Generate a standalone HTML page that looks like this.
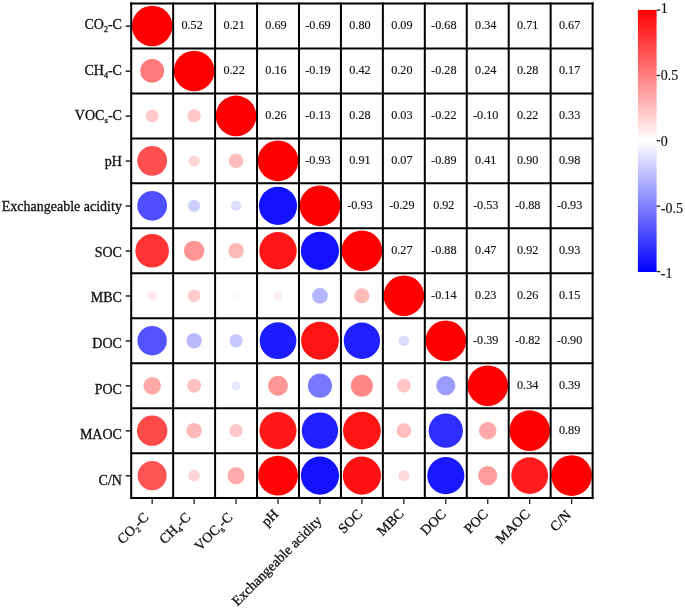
<!DOCTYPE html>
<html lang="en"><head><meta charset="utf-8"><title>Correlation matrix</title>
<style>
html,body{margin:0;padding:0;background:#fff;}
body{width:685px;height:609px;overflow:hidden;}
svg{display:block;}
text{font-family:"Liberation Serif","Times New Roman",serif;fill:#111;}
.val{font-size:12.2px;text-anchor:middle;stroke:#1a1a1a;stroke-width:0.15px;}
.ax{font-size:14px;stroke:#111;stroke-width:0.3px;}
.sub{font-size:9px;}
.sub8{font-size:8px;}
.cb{font-size:14px;stroke:#1a1a1a;stroke-width:0.15px;}
</style></head><body>
<svg width="685" height="609" viewBox="0 0 685 609">
<defs><linearGradient id="g" x1="0" y1="0" x2="0" y2="1"><stop offset="0" stop-color="#ff0000"/><stop offset="0.5" stop-color="#ffffff"/><stop offset="1" stop-color="#0000ff"/></linearGradient></defs>
<rect width="685" height="609" fill="#fff"/>
<circle cx="152.17" cy="25.98" r="20.30" fill="rgb(255,0,0)"/>
<text class="val" x="192.12" y="28.98">0.52</text>
<text class="val" x="234.06" y="28.98">0.21</text>
<text class="val" x="276.01" y="28.98">0.69</text>
<text class="val" x="317.95" y="28.98">-0.69</text>
<text class="val" x="359.90" y="28.98">0.80</text>
<text class="val" x="401.85" y="28.98">0.09</text>
<text class="val" x="443.79" y="28.98">-0.68</text>
<text class="val" x="485.74" y="28.98">0.34</text>
<text class="val" x="527.68" y="28.98">0.71</text>
<text class="val" x="569.63" y="28.98">0.67</text>
<circle cx="152.17" cy="70.95" r="11.90" fill="rgb(255,122,122)"/>
<circle cx="194.12" cy="70.95" r="20.30" fill="rgb(255,0,0)"/>
<text class="val" x="234.06" y="73.95">0.22</text>
<text class="val" x="276.01" y="73.95">0.16</text>
<text class="val" x="317.95" y="73.95">-0.19</text>
<text class="val" x="359.90" y="73.95">0.42</text>
<text class="val" x="401.85" y="73.95">0.20</text>
<text class="val" x="443.79" y="73.95">-0.28</text>
<text class="val" x="485.74" y="73.95">0.24</text>
<text class="val" x="527.68" y="73.95">0.28</text>
<text class="val" x="569.63" y="73.95">0.17</text>
<circle cx="152.17" cy="115.91" r="6.47" fill="rgb(255,201,201)"/>
<circle cx="194.12" cy="115.91" r="6.65" fill="rgb(255,199,199)"/>
<circle cx="236.06" cy="115.91" r="20.30" fill="rgb(255,0,0)"/>
<text class="val" x="276.01" y="118.91">0.26</text>
<text class="val" x="317.95" y="118.91">-0.13</text>
<text class="val" x="359.90" y="118.91">0.28</text>
<text class="val" x="401.85" y="118.91">0.03</text>
<text class="val" x="443.79" y="118.91">-0.22</text>
<text class="val" x="485.74" y="118.91">-0.10</text>
<text class="val" x="527.68" y="118.91">0.22</text>
<text class="val" x="569.63" y="118.91">0.33</text>
<circle cx="152.17" cy="160.87" r="14.88" fill="rgb(255,79,79)"/>
<circle cx="194.12" cy="160.87" r="5.60" fill="rgb(255,214,214)"/>
<circle cx="236.06" cy="160.87" r="7.35" fill="rgb(255,189,189)"/>
<circle cx="278.01" cy="160.87" r="20.30" fill="rgb(255,0,0)"/>
<text class="val" x="317.95" y="163.87">-0.93</text>
<text class="val" x="359.90" y="163.87">0.91</text>
<text class="val" x="401.85" y="163.87">0.07</text>
<text class="val" x="443.79" y="163.87">-0.89</text>
<text class="val" x="485.74" y="163.87">0.41</text>
<text class="val" x="527.68" y="163.87">0.90</text>
<text class="val" x="569.63" y="163.87">0.98</text>
<circle cx="152.17" cy="205.84" r="14.88" fill="rgb(79,79,255)"/>
<circle cx="194.12" cy="205.84" r="6.12" fill="rgb(207,207,255)"/>
<circle cx="236.06" cy="205.84" r="5.07" fill="rgb(222,222,255)"/>
<circle cx="278.01" cy="205.84" r="19.08" fill="rgb(18,18,255)"/>
<circle cx="319.95" cy="205.84" r="20.30" fill="rgb(255,0,0)"/>
<text class="val" x="359.90" y="208.84">-0.93</text>
<text class="val" x="401.85" y="208.84">-0.29</text>
<text class="val" x="443.79" y="208.84">0.92</text>
<text class="val" x="485.74" y="208.84">-0.53</text>
<text class="val" x="527.68" y="208.84">-0.88</text>
<text class="val" x="569.63" y="208.84">-0.93</text>
<circle cx="152.17" cy="250.80" r="16.80" fill="rgb(255,51,51)"/>
<circle cx="194.12" cy="250.80" r="10.15" fill="rgb(255,148,148)"/>
<circle cx="236.06" cy="250.80" r="7.70" fill="rgb(255,184,184)"/>
<circle cx="278.01" cy="250.80" r="18.73" fill="rgb(255,23,23)"/>
<circle cx="319.95" cy="250.80" r="19.08" fill="rgb(18,18,255)"/>
<circle cx="361.90" cy="250.80" r="20.30" fill="rgb(255,0,0)"/>
<text class="val" x="401.85" y="253.80">0.27</text>
<text class="val" x="443.79" y="253.80">-0.88</text>
<text class="val" x="485.74" y="253.80">0.47</text>
<text class="val" x="527.68" y="253.80">0.92</text>
<text class="val" x="569.63" y="253.80">0.93</text>
<circle cx="152.17" cy="295.76" r="4.38" fill="rgb(255,232,232)"/>
<circle cx="194.12" cy="295.76" r="6.30" fill="rgb(255,204,204)"/>
<circle cx="236.06" cy="295.76" r="3.32" fill="rgb(255,247,247)"/>
<circle cx="278.01" cy="295.76" r="4.03" fill="rgb(255,237,237)"/>
<circle cx="319.95" cy="295.76" r="7.87" fill="rgb(181,181,255)"/>
<circle cx="361.90" cy="295.76" r="7.53" fill="rgb(255,186,186)"/>
<circle cx="403.85" cy="295.76" r="20.30" fill="rgb(255,0,0)"/>
<text class="val" x="443.79" y="298.76">-0.14</text>
<text class="val" x="485.74" y="298.76">0.23</text>
<text class="val" x="527.68" y="298.76">0.26</text>
<text class="val" x="569.63" y="298.76">0.15</text>
<circle cx="152.17" cy="340.73" r="14.70" fill="rgb(82,82,255)"/>
<circle cx="194.12" cy="340.73" r="7.70" fill="rgb(184,184,255)"/>
<circle cx="236.06" cy="340.73" r="6.65" fill="rgb(199,199,255)"/>
<circle cx="278.01" cy="340.73" r="18.38" fill="rgb(28,28,255)"/>
<circle cx="319.95" cy="340.73" r="18.90" fill="rgb(255,20,20)"/>
<circle cx="361.90" cy="340.73" r="18.20" fill="rgb(31,31,255)"/>
<circle cx="403.85" cy="340.73" r="5.25" fill="rgb(219,219,255)"/>
<circle cx="445.79" cy="340.73" r="20.30" fill="rgb(255,0,0)"/>
<text class="val" x="485.74" y="343.73">-0.39</text>
<text class="val" x="527.68" y="343.73">-0.82</text>
<text class="val" x="569.63" y="343.73">-0.90</text>
<circle cx="152.17" cy="385.69" r="8.75" fill="rgb(255,168,168)"/>
<circle cx="194.12" cy="385.69" r="7.00" fill="rgb(255,194,194)"/>
<circle cx="236.06" cy="385.69" r="4.55" fill="rgb(230,230,255)"/>
<circle cx="278.01" cy="385.69" r="9.97" fill="rgb(255,150,150)"/>
<circle cx="319.95" cy="385.69" r="12.07" fill="rgb(120,120,255)"/>
<circle cx="361.90" cy="385.69" r="11.02" fill="rgb(255,135,135)"/>
<circle cx="403.85" cy="385.69" r="6.83" fill="rgb(255,196,196)"/>
<circle cx="445.79" cy="385.69" r="9.62" fill="rgb(156,156,255)"/>
<circle cx="487.74" cy="385.69" r="20.30" fill="rgb(255,0,0)"/>
<text class="val" x="527.68" y="388.69">0.34</text>
<text class="val" x="569.63" y="388.69">0.39</text>
<circle cx="152.17" cy="430.65" r="15.22" fill="rgb(255,74,74)"/>
<circle cx="194.12" cy="430.65" r="7.70" fill="rgb(255,184,184)"/>
<circle cx="236.06" cy="430.65" r="6.65" fill="rgb(255,199,199)"/>
<circle cx="278.01" cy="430.65" r="18.55" fill="rgb(255,25,25)"/>
<circle cx="319.95" cy="430.65" r="18.20" fill="rgb(31,31,255)"/>
<circle cx="361.90" cy="430.65" r="18.90" fill="rgb(255,20,20)"/>
<circle cx="403.85" cy="430.65" r="7.35" fill="rgb(255,189,189)"/>
<circle cx="445.79" cy="430.65" r="17.15" fill="rgb(46,46,255)"/>
<circle cx="487.74" cy="430.65" r="8.75" fill="rgb(255,168,168)"/>
<circle cx="529.68" cy="430.65" r="20.30" fill="rgb(255,0,0)"/>
<text class="val" x="569.63" y="433.65">0.89</text>
<circle cx="152.17" cy="475.62" r="14.53" fill="rgb(255,84,84)"/>
<circle cx="194.12" cy="475.62" r="5.78" fill="rgb(255,212,212)"/>
<circle cx="236.06" cy="475.62" r="8.57" fill="rgb(255,171,171)"/>
<circle cx="278.01" cy="475.62" r="19.95" fill="rgb(255,5,5)"/>
<circle cx="319.95" cy="475.62" r="19.08" fill="rgb(18,18,255)"/>
<circle cx="361.90" cy="475.62" r="19.08" fill="rgb(255,18,18)"/>
<circle cx="403.85" cy="475.62" r="5.42" fill="rgb(255,217,217)"/>
<circle cx="445.79" cy="475.62" r="18.55" fill="rgb(25,25,255)"/>
<circle cx="487.74" cy="475.62" r="9.62" fill="rgb(255,156,156)"/>
<circle cx="529.68" cy="475.62" r="18.38" fill="rgb(255,28,28)"/>
<circle cx="571.63" cy="475.62" r="20.30" fill="rgb(255,0,0)"/>
<line x1="131.20" y1="2.50" x2="131.20" y2="499.10" stroke="#000" stroke-width="2.0"/>
<line x1="130.20" y1="3.50" x2="593.60" y2="3.50" stroke="#000" stroke-width="2.0"/>
<line x1="173.15" y1="2.50" x2="173.15" y2="499.10" stroke="#000" stroke-width="2.0"/>
<line x1="130.20" y1="48.46" x2="593.60" y2="48.46" stroke="#000" stroke-width="2.0"/>
<line x1="215.09" y1="2.50" x2="215.09" y2="499.10" stroke="#000" stroke-width="2.0"/>
<line x1="130.20" y1="93.43" x2="593.60" y2="93.43" stroke="#000" stroke-width="2.0"/>
<line x1="257.04" y1="2.50" x2="257.04" y2="499.10" stroke="#000" stroke-width="2.0"/>
<line x1="130.20" y1="138.39" x2="593.60" y2="138.39" stroke="#000" stroke-width="2.0"/>
<line x1="298.98" y1="2.50" x2="298.98" y2="499.10" stroke="#000" stroke-width="2.0"/>
<line x1="130.20" y1="183.35" x2="593.60" y2="183.35" stroke="#000" stroke-width="2.0"/>
<line x1="340.93" y1="2.50" x2="340.93" y2="499.10" stroke="#000" stroke-width="2.0"/>
<line x1="130.20" y1="228.32" x2="593.60" y2="228.32" stroke="#000" stroke-width="2.0"/>
<line x1="382.87" y1="2.50" x2="382.87" y2="499.10" stroke="#000" stroke-width="2.0"/>
<line x1="130.20" y1="273.28" x2="593.60" y2="273.28" stroke="#000" stroke-width="2.0"/>
<line x1="424.82" y1="2.50" x2="424.82" y2="499.10" stroke="#000" stroke-width="2.0"/>
<line x1="130.20" y1="318.25" x2="593.60" y2="318.25" stroke="#000" stroke-width="2.0"/>
<line x1="466.76" y1="2.50" x2="466.76" y2="499.10" stroke="#000" stroke-width="2.0"/>
<line x1="130.20" y1="363.21" x2="593.60" y2="363.21" stroke="#000" stroke-width="2.0"/>
<line x1="508.71" y1="2.50" x2="508.71" y2="499.10" stroke="#000" stroke-width="2.0"/>
<line x1="130.20" y1="408.17" x2="593.60" y2="408.17" stroke="#000" stroke-width="2.0"/>
<line x1="550.65" y1="2.50" x2="550.65" y2="499.10" stroke="#000" stroke-width="2.0"/>
<line x1="130.20" y1="453.14" x2="593.60" y2="453.14" stroke="#000" stroke-width="2.0"/>
<line x1="592.60" y1="2.50" x2="592.60" y2="499.10" stroke="#000" stroke-width="2.0"/>
<line x1="130.20" y1="498.10" x2="593.60" y2="498.10" stroke="#000" stroke-width="2.0"/>
<line x1="125.7" y1="26.18" x2="131.2" y2="26.18" stroke="#222" stroke-width="1.5"/>
<line x1="152.17" y1="498.1" x2="152.17" y2="504" stroke="#222" stroke-width="1.3"/>
<text class="ax" text-anchor="end" x="121.9" y="29.10">CO<tspan class="sub8" dy="3.1">2</tspan><tspan dy="-3.1">-C</tspan></text>
<text class="ax" text-anchor="end" transform="translate(146.17,515.00) rotate(-45)" x="0" y="4.5">CO<tspan class="sub8" dy="3.1">2</tspan><tspan dy="-3.1">-C</tspan></text>
<line x1="125.7" y1="71.15" x2="131.2" y2="71.15" stroke="#222" stroke-width="1.5"/>
<line x1="194.12" y1="498.1" x2="194.12" y2="504" stroke="#222" stroke-width="1.3"/>
<text class="ax" text-anchor="end" x="121.9" y="75.12">CH<tspan class="sub8" dy="3.1">4</tspan><tspan dy="-3.1">-C</tspan></text>
<text class="ax" text-anchor="end" transform="translate(188.12,515.00) rotate(-45)" x="0" y="4.5">CH<tspan class="sub8" dy="3.1">4</tspan><tspan dy="-3.1">-C</tspan></text>
<line x1="125.7" y1="116.11" x2="131.2" y2="116.11" stroke="#222" stroke-width="1.5"/>
<line x1="236.06" y1="498.1" x2="236.06" y2="504" stroke="#222" stroke-width="1.3"/>
<text class="ax" text-anchor="end" x="121.9" y="119.74">VOC<tspan class="sub" dy="3.1">s</tspan><tspan dy="-3.1">-C</tspan></text>
<text class="ax" text-anchor="end" transform="translate(230.06,515.00) rotate(-45)" x="0" y="4.5">VOC<tspan class="sub" dy="3.1">s</tspan><tspan dy="-3.1">-C</tspan></text>
<line x1="125.7" y1="161.07" x2="131.2" y2="161.07" stroke="#222" stroke-width="1.5"/>
<line x1="278.01" y1="498.1" x2="278.01" y2="504" stroke="#222" stroke-width="1.3"/>
<text class="ax" text-anchor="end" x="121.9" y="166.16">pH</text>
<text class="ax" text-anchor="end" transform="translate(276.01,511.70) rotate(-45)" x="0" y="4.5">pH</text>
<line x1="125.7" y1="206.04" x2="131.2" y2="206.04" stroke="#222" stroke-width="1.5"/>
<line x1="319.95" y1="498.1" x2="319.95" y2="504" stroke="#222" stroke-width="1.3"/>
<text class="ax" text-anchor="end" x="121.9" y="211.18">Exchangeable acidity</text>
<text class="ax" text-anchor="end" transform="translate(319.15,518.40) rotate(-45)" x="0" y="4.5">Exchangeable acidity</text>
<line x1="125.7" y1="251.00" x2="131.2" y2="251.00" stroke="#222" stroke-width="1.5"/>
<line x1="361.90" y1="498.1" x2="361.90" y2="504" stroke="#222" stroke-width="1.3"/>
<text class="ax" text-anchor="end" x="121.9" y="256.80">SOC</text>
<text class="ax" text-anchor="end" transform="translate(359.90,511.70) rotate(-45)" x="0" y="4.5">SOC</text>
<line x1="125.7" y1="295.96" x2="131.2" y2="295.96" stroke="#222" stroke-width="1.5"/>
<line x1="403.85" y1="498.1" x2="403.85" y2="504" stroke="#222" stroke-width="1.3"/>
<text class="ax" text-anchor="end" x="121.9" y="302.42">MBC</text>
<text class="ax" text-anchor="end" transform="translate(401.45,511.20) rotate(-45)" x="0" y="4.5">MBC</text>
<line x1="125.7" y1="340.93" x2="131.2" y2="340.93" stroke="#222" stroke-width="1.5"/>
<line x1="445.79" y1="498.1" x2="445.79" y2="504" stroke="#222" stroke-width="1.3"/>
<text class="ax" text-anchor="end" x="121.9" y="348.24">DOC</text>
<text class="ax" text-anchor="end" transform="translate(443.79,511.70) rotate(-45)" x="0" y="4.5">DOC</text>
<line x1="125.7" y1="385.89" x2="131.2" y2="385.89" stroke="#222" stroke-width="1.5"/>
<line x1="487.74" y1="498.1" x2="487.74" y2="504" stroke="#222" stroke-width="1.3"/>
<text class="ax" text-anchor="end" x="121.9" y="393.76">POC</text>
<text class="ax" text-anchor="end" transform="translate(485.74,511.70) rotate(-45)" x="0" y="4.5">POC</text>
<line x1="125.7" y1="430.85" x2="131.2" y2="430.85" stroke="#222" stroke-width="1.5"/>
<line x1="529.68" y1="498.1" x2="529.68" y2="504" stroke="#222" stroke-width="1.3"/>
<text class="ax" text-anchor="end" x="121.9" y="439.28">MAOC</text>
<text class="ax" text-anchor="end" transform="translate(527.68,511.70) rotate(-45)" x="0" y="4.5">MAOC</text>
<line x1="125.7" y1="475.82" x2="131.2" y2="475.82" stroke="#222" stroke-width="1.5"/>
<line x1="571.63" y1="498.1" x2="571.63" y2="504" stroke="#222" stroke-width="1.3"/>
<text class="ax" text-anchor="end" x="121.9" y="484.80">C/N</text>
<text class="ax" text-anchor="end" transform="translate(568.73,512.60) rotate(-45)" x="0" y="4.5">C/N</text>
<rect x="637.9" y="9.9" width="18.7" height="262.1" fill="url(#g)"/>
<line x1="656.6" y1="10.1" x2="660.2" y2="10.1" stroke="#222" stroke-width="1.3"/>
<text class="cb" x="660.8" y="12.80">1</text>
<line x1="656.6" y1="75.5" x2="660.2" y2="75.5" stroke="#222" stroke-width="1.3"/>
<text class="cb" x="660.8" y="79.50">0.5</text>
<line x1="656.6" y1="140.7" x2="660.2" y2="140.7" stroke="#222" stroke-width="1.3"/>
<text class="cb" x="660.8" y="146.20">0</text>
<line x1="656.6" y1="206.2" x2="660.2" y2="206.2" stroke="#222" stroke-width="1.3"/>
<text class="cb" x="660.8" y="213.20">-0.5</text>
<line x1="656.6" y1="271.6" x2="660.2" y2="271.6" stroke="#222" stroke-width="1.3"/>
<text class="cb" x="660.8" y="278.00">-1</text>
</svg></body></html>
